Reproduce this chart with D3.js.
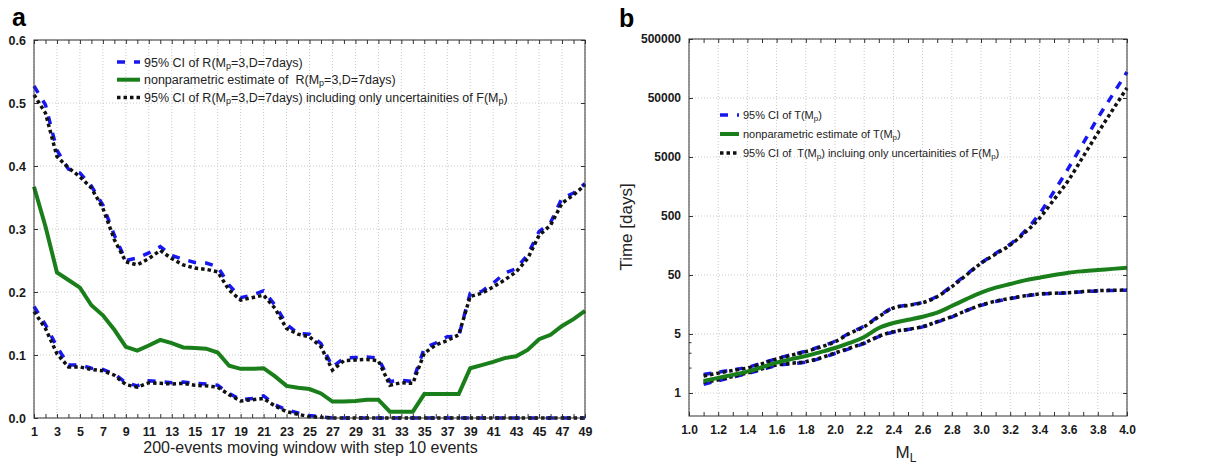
<!DOCTYPE html>
<html>
<head>
<meta charset="utf-8">
<script src="https://cdn.jsdelivr.net/npm/d3@7"></script>
<style>
body { margin: 0; background: #fff; }
svg { font-family: "Liberation Sans", Arial, sans-serif; }
</style>
</head>
<body>
<div id="chart"></div>
<script>
// ---- panel a : moving window ----
const windowIdx = d3.range(1, 50);
const windowLabels = windowIdx.filter(d => d % 2 === 1);
const rTicks = [0, 0.1, 0.2, 0.3, 0.4, 0.5, 0.6];

const rEstimate = [0.367, 0.304, 0.231, 0.219, 0.207, 0.179, 0.163, 0.140, 0.113, 0.107,
    0.115, 0.124, 0.119, 0.112, 0.111, 0.110, 0.104, 0.083, 0.078, 0.078,
    0.079, 0.066, 0.051, 0.048, 0.046, 0.039, 0.026, 0.026, 0.027, 0.029,
    0.029, 0.010, 0.010, 0.010, 0.038, 0.038, 0.038, 0.038, 0.079, 0.084,
    0.089, 0.095, 0.098, 0.108, 0.125, 0.132, 0.146, 0.157, 0.170];
const rCiUpper = [0.527, 0.497, 0.425, 0.395, 0.389, 0.368, 0.338, 0.290, 0.250, 0.254,
    0.262, 0.272, 0.258, 0.252, 0.247, 0.246, 0.240, 0.211, 0.191, 0.195,
    0.202, 0.179, 0.149, 0.134, 0.133, 0.118, 0.081, 0.095, 0.096, 0.097,
    0.095, 0.058, 0.060, 0.058, 0.111, 0.119, 0.129, 0.130, 0.198, 0.201,
    0.214, 0.230, 0.237, 0.259, 0.296, 0.310, 0.349, 0.357, 0.372];
const rCiLower = [0.177, 0.148, 0.113, 0.084, 0.084, 0.079, 0.077, 0.070, 0.056, 0.051,
    0.059, 0.058, 0.056, 0.057, 0.055, 0.054, 0.052, 0.039, 0.029, 0.031,
    0.035, 0.021, 0.013, 0.008, 0.004, 0.002, 0, 0, 0, 0,
    0, 0, 0, 0, 0, 0, 0, 0, 0, 0,
    0, 0, 0, 0, 0, 0, 0, 0, 0];
const rFUpper = [0.513, 0.484, 0.415, 0.397, 0.383, 0.365, 0.333, 0.283, 0.248, 0.243,
    0.253, 0.266, 0.253, 0.243, 0.238, 0.236, 0.232, 0.203, 0.187, 0.191,
    0.195, 0.174, 0.142, 0.133, 0.129, 0.113, 0.076, 0.091, 0.092, 0.093,
    0.091, 0.052, 0.056, 0.055, 0.103, 0.116, 0.123, 0.132, 0.193, 0.198,
    0.208, 0.219, 0.232, 0.253, 0.290, 0.306, 0.341, 0.354, 0.370];
const rFLower = [0.169, 0.142, 0.102, 0.081, 0.081, 0.077, 0.075, 0.068, 0.053, 0.049,
    0.056, 0.055, 0.054, 0.055, 0.052, 0.051, 0.049, 0.037, 0.027, 0.029,
    0.031, 0.019, 0.010, 0.006, 0.002, 0.001, 0, 0, 0, 0,
    0, 0, 0, 0, 0, 0, 0, 0, 0, 0,
    0, 0, 0, 0, 0, 0, 0, 0, 0];

// ---- panel b : return period vs magnitude ----
const magnitudes = [1.1, 1.2, 1.3, 1.4, 1.5, 1.6, 1.7, 1.8, 1.9, 2.0,
    2.1, 2.2, 2.3, 2.4, 2.5, 2.6, 2.7, 2.8, 2.9, 3.0,
    3.1, 3.2, 3.3, 3.4, 3.5, 3.6, 3.7, 3.8, 3.9, 4.0];
const magTicks = [1.0, 1.2, 1.4, 1.6, 1.8, 2.0, 2.2, 2.4, 2.6, 2.8, 3.0, 3.2, 3.4, 3.6, 3.8, 4.0];
const timeTicks = [1, 5, 50, 500, 5000, 50000, 500000];
const timeMinor = [2, 3, 4];

const tEstimate = [1.39, 1.51, 1.64, 1.79, 2.02, 2.29, 2.52, 2.74, 3.05, 3.41,
    3.92, 4.61, 6.32, 7.68, 8.7, 9.82, 11.5, 14.9, 19.5, 25.1,
    30.5, 35.2, 40.5, 45.0, 50, 54.7, 58, 60.8, 63.5, 66.5];
const tCiUpper = [1.66, 1.76, 1.88, 2.02, 2.25, 2.56, 2.84, 3.12, 3.55, 4.1,
    5.2, 6.8, 10.0, 14.0, 15.5, 17.2, 21.8, 32.5, 51, 80,
    116, 166, 275, 541, 1300, 3260, 8600, 22900, 56000, 138000];
const tCiLower = [1.27, 1.40, 1.54, 1.70, 1.90, 2.12, 2.22, 2.32, 2.57, 2.94,
    3.35, 3.86, 4.65, 5.4, 5.95, 6.6, 8.0, 9.7, 12.4, 15.3,
    17.8, 19.9, 22.0, 23.6, 24.4, 24.9, 26.0, 26.9, 27.3, 27.7];
const tFUpper = [1.59, 1.72, 1.85, 1.98, 2.22, 2.53, 2.80, 3.09, 3.5, 4.05,
    5.1, 6.65, 9.8, 13.8, 15.3, 16.9, 21.4, 31.7, 50, 78.9,
    113, 161, 260, 457, 950, 2037, 5100, 12770, 31000, 73960];
const tFLower = [1.35, 1.43, 1.57, 1.73, 1.93, 2.15, 2.25, 2.35, 2.6, 2.98,
    3.4, 3.91, 4.7, 5.47, 6.0, 6.65, 8.09, 9.82, 12.5, 15.5,
    18, 20.1, 22.2, 23.8, 24.6, 25.1, 26.2, 27.1, 27.5, 27.9];

// legend texts: [text, isSubscript]
const legendA = [
    [["95% CI of R(M"], ["p", 1], ["=3,D=7days)"]],
    [["nonparametric estimate of  R(M"], ["p", 1], ["=3,D=7days)"]],
    [["95% CI of R(M"], ["p", 1], ["=3,D=7days) including only uncertainities of F(M"], ["p", 1], [")"]]
];
const legendB = [
    [["95% CI of T(M"], ["p", 1], [")"]],
    [["nonparametric estimate of T(M"], ["p", 1], [")"]],
    [["95% CI of  T(M"], ["p", 1], [") incluing only uncertainities of F(M"], ["p", 1], [")"]]
];

const BLUE = "#1717f0", GREEN = "#1a7f1a", BLACK = "#111";

const svg = d3.select("#chart").append("svg")
    .attr("width", 1212)
    .attr("height", 465);
svg.append("rect").attr("width", 1212).attr("height", 465).attr("fill", "#fff");

const richText = (sel, parts, size) => {
    parts.forEach(p => {
        const t = sel.append("tspan").text(p[0]);
        if (p[1]) t.attr("font-size", size * 0.72).attr("baseline-shift", "-22%");
    });
};

const grid = (g, xs, ys, x, y, w, h) => {
    g.append("g").selectAll("line").data(xs).join("line")
        .attr("x1", d => x(d)).attr("x2", d => x(d)).attr("y1", 0).attr("y2", h)
        .attr("stroke", "#c9c9c9").attr("stroke-dasharray", "1,2");
    g.append("g").selectAll("line").data(ys).join("line")
        .attr("y1", d => y(d)).attr("y2", d => y(d)).attr("x1", 0).attr("x2", w)
        .attr("stroke", "#c9c9c9").attr("stroke-dasharray", "1,2");
};

const styleAxis = (a, size) => {
    a.select(".domain").remove();
    a.selectAll(".tick line").attr("stroke", "#333");
    a.selectAll("text").attr("font-size", size).attr("fill", "#1a1a1a").attr("font-weight", "bold")
        .attr("font-family", "Liberation Sans, Arial, sans-serif");
};

const legend = (g, rows, x0, y0, dy, len, size) => {
    const styles = [
        {stroke: BLUE, dash: "8,9", w: 3.5},
        {stroke: GREEN, dash: null, w: 4},
        {stroke: BLACK, dash: "3.5,3", w: 3.5}
    ];
    rows.forEach((r, i) => {
        const y = y0 + i * dy;
        g.append("line").attr("x1", x0).attr("x2", x0 + len).attr("y1", y).attr("y2", y)
            .attr("stroke", styles[i].stroke).attr("stroke-width", styles[i].w)
            .attr("stroke-dasharray", styles[i].dash);
        const t = g.append("text").attr("x", x0 + len + 4).attr("y", y + size * 0.36)
            .attr("font-size", size).attr("fill", "#222").style("white-space", "pre");
        richText(t, r, size);
    });
};

// =============== panel a ===============
{
    const w = 551, h = 378;
    const g = svg.append("g").attr("transform", "translate(34,40)");
    const x = d3.scaleLinear().domain([1, 49]).range([0, w]);
    const y = d3.scaleLinear().domain([0, 0.6]).range([h, 0]);

    grid(g, windowLabels, rTicks, x, y, w, h);

    styleAxis(g.append("g").attr("transform", `translate(0,${h})`)
        .call(d3.axisBottom(x).tickValues(windowIdx).tickSizeInner(-4).tickSizeOuter(0).tickPadding(9)
            .tickFormat(d => d % 2 === 1 ? d : "")), 12.5);
    styleAxis(g.append("g")
        .call(d3.axisTop(x).tickValues(windowIdx).tickSizeInner(-4).tickSizeOuter(0).tickFormat("")), 12);
    styleAxis(g.append("g")
        .call(d3.axisLeft(y).tickValues(rTicks).tickSizeInner(-4).tickSizeOuter(0).tickPadding(8)
            .tickFormat(d3.format(".1f"))), 12.5);
    styleAxis(g.append("g").attr("transform", `translate(${w},0)`)
        .call(d3.axisRight(y).tickValues(rTicks).tickSizeInner(-4).tickSizeOuter(0).tickFormat("")), 12);

    const line = vals => d3.line().x((d, i) => x(windowIdx[i])).y(d => y(d))(vals);

    [rCiUpper, rCiLower].forEach(s => g.append("path").attr("d", line(s))
        .attr("fill", "none").attr("stroke", BLUE).attr("stroke-width", 3.5).attr("stroke-dasharray", "8,9"));
    g.append("path").attr("d", line(rEstimate))
        .attr("fill", "none").attr("stroke", GREEN).attr("stroke-width", 4);
    [rFUpper, rFLower].forEach(s => g.append("path").attr("d", line(s))
        .attr("fill", "none").attr("stroke", BLACK).attr("stroke-width", 3.5).attr("stroke-dasharray", "3.5,3"));

    g.append("rect").attr("width", w).attr("height", h).attr("fill", "none").attr("stroke", "#333");

    legend(g, legendA, 83, 22, 17.7, 23, 12.5);

    g.append("text").attr("x", w / 2 + 1).attr("y", h + 35).attr("text-anchor", "middle")
        .attr("font-size", 16).attr("fill", "#222").text("200-events moving window with step 10 events");
    svg.append("text").attr("x", 12).attr("y", 26).attr("font-size", 25).attr("font-weight", "bold").text("a");
}

// =============== panel b ===============
{
    const w = 438, h = 377;
    const g = svg.append("g").attr("transform", "translate(689,39)");
    const x = d3.scaleLinear().domain([1, 4]).range([0, w]);
    // the printed axis spaces 1,5,50,...,500000 evenly; map log10 values piecewise onto it
    const step = (h - 23) / (timeTicks.length - 1);
    const y = d3.scaleLinear()
        .domain(timeTicks.map(Math.log10))
        .range(timeTicks.map((d, i) => h - 23 - i * step));
    const yLog = v => y(Math.log10(v));
    const minor = d3.range(10, 41).map(d => d / 10);

    grid(g, magTicks, timeTicks.map(Math.log10), x, y, w, h);

    styleAxis(g.append("g").attr("transform", `translate(0,${h})`)
        .call(d3.axisBottom(x).tickValues(minor).tickSizeInner(-4).tickSizeOuter(0).tickPadding(9)
            .tickFormat(d => Math.round(d * 10) % 2 === 0 ? d3.format(".1f")(d) : "")), 12);
    styleAxis(g.append("g")
        .call(d3.axisTop(x).tickValues(minor).tickSizeInner(-4).tickSizeOuter(0).tickFormat("")), 12);
    styleAxis(g.append("g")
        .call(d3.axisLeft(y).tickValues(timeTicks.map(Math.log10)).tickSizeInner(-4).tickSizeOuter(0).tickPadding(8)
            .tickFormat(d => Math.round(Math.pow(10, d)))), 12);
    styleAxis(g.append("g")
        .call(d3.axisLeft(y).tickValues(timeMinor.map(Math.log10)).tickSizeInner(-2.5).tickSizeOuter(0).tickFormat("")), 12);
    styleAxis(g.append("g").attr("transform", `translate(${w},0)`)
        .call(d3.axisRight(y).tickValues(timeTicks.map(Math.log10)).tickSizeInner(-4).tickSizeOuter(0).tickFormat("")), 12);

    const line = vals => d3.line().curve(d3.curveMonotoneX)
        .x((d, i) => x(magnitudes[i])).y(d => yLog(d))(vals);

    [tCiUpper, tCiLower].forEach(s => g.append("path").attr("d", line(s))
        .attr("fill", "none").attr("stroke", BLUE).attr("stroke-width", 3.5).attr("stroke-dasharray", "8,8"));
    [tFUpper, tFLower].forEach(s => g.append("path").attr("d", line(s))
        .attr("fill", "none").attr("stroke", BLACK).attr("stroke-width", 3.5).attr("stroke-dasharray", "3.5,3"));
    g.append("path").attr("d", line(tEstimate))
        .attr("fill", "none").attr("stroke", GREEN).attr("stroke-width", 4);

    g.append("rect").attr("width", w).attr("height", h).attr("fill", "none").attr("stroke", "#333");

    legend(g, legendB, 31, 76, 19, 19, 11);

    const xl = g.append("text").attr("x", w / 2 - 2).attr("y", h + 42).attr("text-anchor", "middle")
        .attr("font-size", 17).attr("fill", "#222");
    xl.append("tspan").text("M");
    xl.append("tspan").attr("font-size", 12).attr("baseline-shift", "-30%").text("L");

    svg.append("text").attr("transform", "translate(632,227) rotate(-90)").attr("text-anchor", "middle")
        .attr("font-size", 17).attr("fill", "#222").text("Time [days]");
    svg.append("text").attr("x", 619).attr("y", 27).attr("font-size", 25).attr("font-weight", "bold").text("b");
}
</script>
</body>
</html>
